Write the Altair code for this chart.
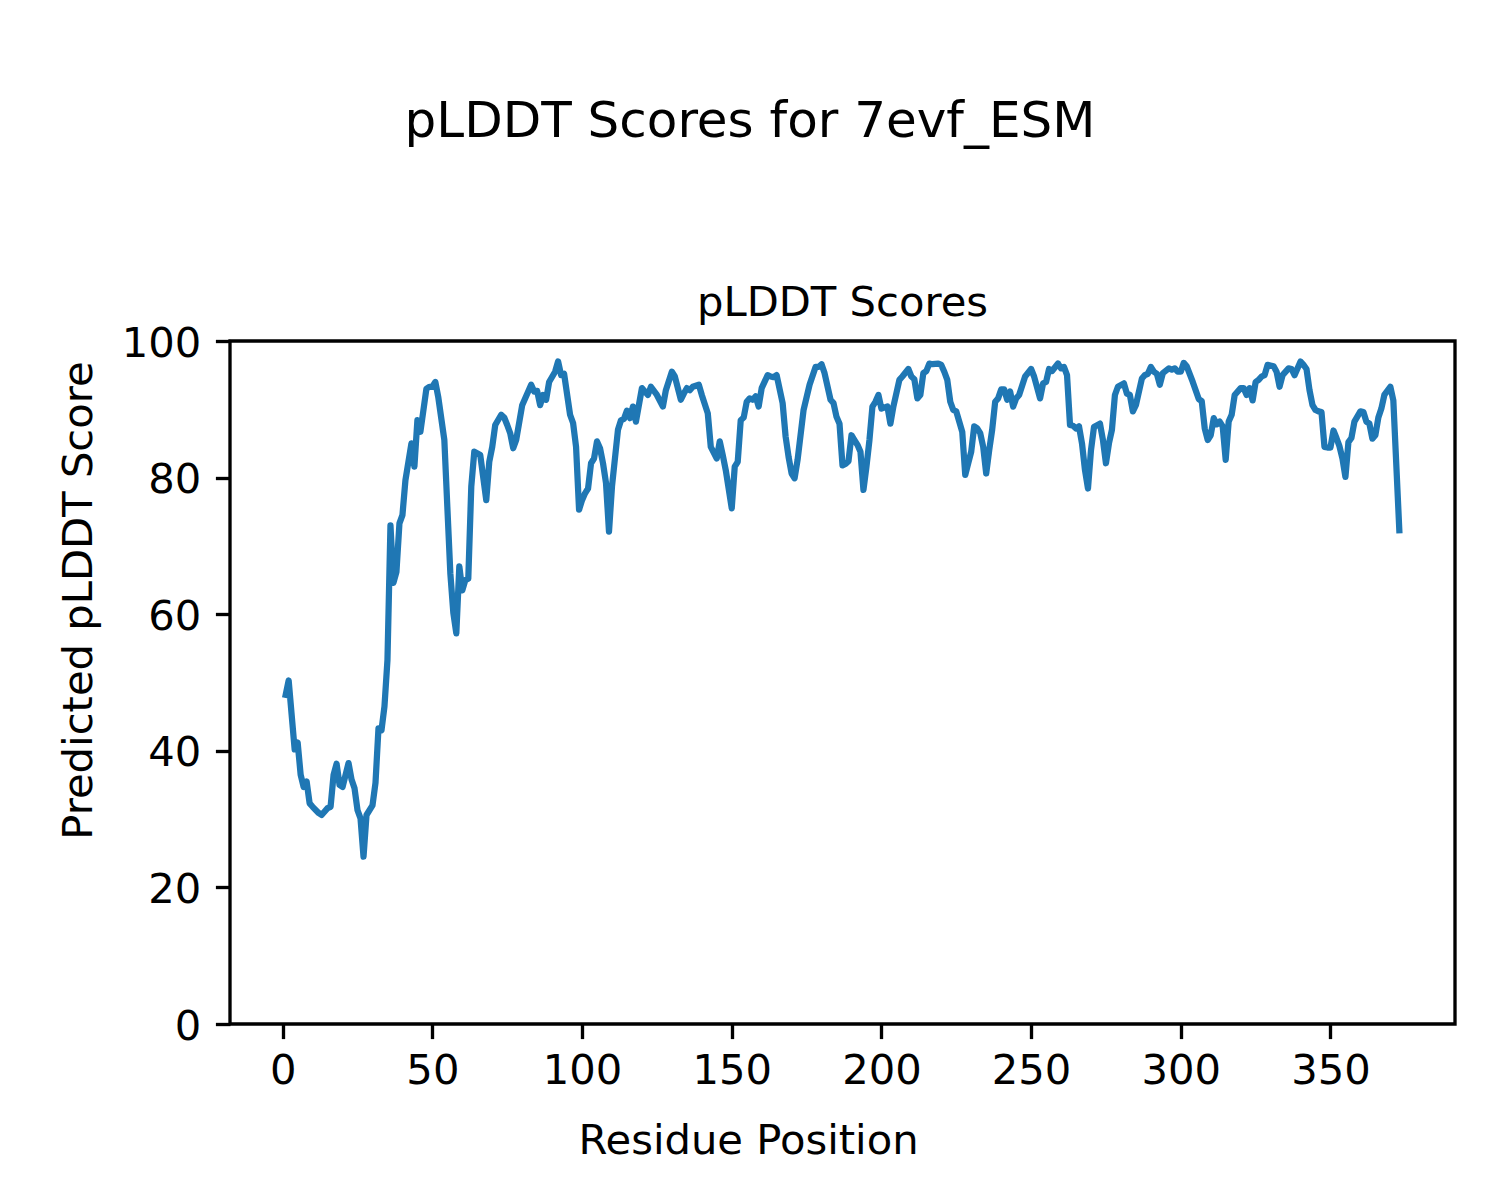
import altair as alt
import pandas as pd

suptitle = "pLDDT Scores for 7evf_ESM"
axes_title = "pLDDT Scores"
x_title = "Residue Position"
y_title = "Predicted pLDDT Score"
x_ticks = [0, 50, 100, 150, 200, 250, 300, 350]
y_ticks = [0, 20, 40, 60, 80, 100]

residue = [
    1, 2, 4, 5, 6, 7, 8, 9, 10, 12, 13, 15, 16, 17, 18, 19, 20, 22, 23, 24,
    25, 26, 27, 28, 30, 31, 32, 33, 34, 35, 36, 37, 38, 39, 40, 41, 43, 44, 45, 46,
    48, 49, 50, 51, 52, 54, 55, 56, 57, 58, 59, 60, 61, 62, 63, 64, 66, 68, 69, 70,
    71, 73, 74, 75, 76, 77, 78, 80, 83, 84, 85, 86, 87, 88, 89, 91, 92, 93, 94, 96,
    97, 98, 99, 100, 101, 102, 103, 104, 105, 106, 107, 108, 109, 110, 112, 113, 114, 115, 116, 117,
    118, 120, 122, 123, 125, 127, 128, 130, 131, 133, 134, 135, 136, 137, 139, 140, 142, 143, 145, 146,
    147, 148, 150, 151, 152, 153, 154, 155, 156, 157, 158, 159, 160, 162, 163, 164, 165, 167, 168, 169,
    170, 171, 172, 174, 176, 178, 179, 180, 181, 183, 184, 185, 186, 187, 188, 189, 190, 191, 192, 193,
    194, 195, 196, 197, 198, 199, 200, 202, 203, 204, 206, 207, 209, 210, 211, 212, 213, 214, 215, 216,
    217, 219, 220, 221, 222, 223, 224, 225, 226, 227, 228, 229, 230, 231, 232, 233, 234, 235, 236, 237,
    238, 239, 240, 241, 242, 243, 244, 245, 246, 248, 250, 251, 253, 254, 255, 256, 257, 259, 260, 261,
    262, 263, 264, 265, 266, 267, 268, 269, 270, 271, 273, 274, 275, 276, 277, 278, 279, 281, 282, 283,
    284, 285, 287, 288, 289, 290, 291, 292, 293, 294, 296, 297, 298, 299, 300, 301, 302, 304, 306, 307,
    308, 309, 310, 311, 312, 313, 314, 315, 316, 317, 318, 320, 321, 322, 323, 324, 325, 326, 327, 328,
    329, 331, 332, 333, 334, 336, 337, 338, 340, 341, 342, 343, 344, 345, 346, 347, 348, 349, 350, 351,
    352, 353, 354, 355, 356, 357, 358, 360, 361, 362, 363, 364, 365, 366, 367, 368, 370, 371, 373,
]

plddt = [
    48.2, 50.3, 40.2, 41.2, 36.5, 34.7, 35.5, 32.3, 31.8, 30.9, 30.6, 31.6, 31.8, 36.5, 38.1, 35.0, 34.7, 38.2, 35.8, 34.5,
    31.3, 30.1, 24.5, 30.6, 32.0, 35.3, 43.3, 43.0, 46.5, 53.3, 73.0, 64.6, 66.2, 73.3, 74.5, 79.6, 85.0, 81.6, 88.4, 86.7,
    93.0, 93.3, 93.3, 94.0, 91.7, 85.5, 75.7, 66.0, 60.2, 57.2, 67.0, 63.5, 65.0, 65.2, 78.7, 83.8, 83.3, 76.7, 82.3, 84.5,
    87.7, 89.2, 88.8, 87.7, 86.5, 84.3, 85.5, 90.6, 93.6, 92.6, 92.7, 90.6, 92.1, 91.4, 94.0, 95.5, 97.0, 95.0, 95.2, 89.2,
    88.0, 84.5, 75.3, 76.7, 77.7, 78.4, 82.1, 82.8, 85.3, 84.3, 82.1, 79.2, 72.1, 78.7, 87.0, 88.4, 88.6, 89.8, 88.7, 90.4,
    88.2, 93.1, 92.1, 93.3, 92.1, 90.4, 92.8, 95.5, 94.8, 91.4, 92.3, 93.1, 92.8, 93.3, 93.6, 92.1, 89.4, 84.5, 82.8, 85.3,
    83.3, 81.1, 75.5, 81.6, 82.3, 88.4, 88.8, 91.1, 91.6, 91.4, 91.9, 90.4, 93.1, 95.0, 94.8, 94.7, 95.0, 90.9, 86.0, 83.0,
    80.6, 79.9, 82.6, 89.9, 93.6, 96.2, 96.2, 96.6, 95.3, 91.4, 90.9, 88.9, 87.9, 81.8, 82.0, 82.4, 86.2, 85.5, 84.8, 83.8,
    78.2, 81.6, 85.5, 90.4, 91.1, 92.1, 90.1, 90.4, 87.9, 90.4, 94.3, 94.8, 95.9, 94.8, 94.4, 91.6, 92.1, 95.3, 95.6, 96.7,
    96.6, 96.7, 96.5, 95.5, 94.3, 91.1, 89.9, 89.7, 88.2, 86.7, 80.4, 82.1, 83.8, 87.5, 87.2, 86.5, 84.5, 80.6, 84.0, 87.0,
    91.1, 91.6, 92.9, 92.9, 91.4, 92.6, 90.4, 91.6, 92.1, 94.8, 95.9, 94.8, 91.6, 93.8, 94.0, 95.9, 95.6, 96.7, 96.0, 96.2,
    95.0, 87.7, 87.6, 87.2, 87.5, 85.0, 81.1, 78.4, 84.0, 87.4, 87.9, 85.5, 82.1, 85.0, 87.0, 92.1, 93.3, 93.8, 92.3, 92.1,
    89.7, 90.6, 94.5, 95.0, 95.2, 96.2, 95.5, 95.2, 93.6, 95.3, 96.0, 95.8, 96.0, 95.5, 95.5, 96.8, 96.3, 94.0, 91.5, 91.2,
    87.2, 85.5, 86.2, 88.7, 87.8, 88.2, 87.5, 82.6, 88.2, 89.2, 92.1, 93.1, 93.1, 92.1, 93.1, 91.3, 94.0, 94.3, 94.8, 95.0,
    96.5, 96.3, 95.5, 93.3, 95.0, 96.0, 95.9, 95.0, 97.0, 96.5, 95.9, 92.8, 90.6, 89.9, 89.7, 89.6, 84.5, 84.4, 84.4, 86.9,
    85.8, 84.6, 82.8, 80.1, 85.2, 85.8, 88.2, 89.7, 89.6, 88.2, 87.9, 85.7, 86.2, 88.8, 90.1, 92.1, 93.3, 91.3, 72.3,
]

df = pd.DataFrame({"residue": residue, "plddt": plddt})

FONT = "DejaVu Sans"
W, H = 1225, 683

line = alt.Chart(df).mark_line(
    color="#1f77b4", strokeWidth=6.25, strokeCap="square", strokeJoin="round"
).encode(
    x=alt.X(
        "residue:Q",
        scale=alt.Scale(domain=[-17.6, 391.6], nice=False, zero=False),
        axis=alt.Axis(
            values=x_ticks, title=x_title, labelBaseline="alphabetic",
            labelPadding=44.4, labelAlign="center",
            titleX=518, titleY=129, titleAlign="center", titleBaseline="alphabetic",
        ),
    ),
    y=alt.Y(
        "plddt:Q",
        scale=alt.Scale(domain=[0, 100], nice=False, zero=False),
        axis=alt.Axis(
            values=y_ticks, title=y_title, labelBaseline="alphabetic",
            labelOffset=15, labelPadding=14.6, labelAlign="right",
            titleAngle=270, titleX=-138.3, titleY=259, titleAlign="center",
            titleBaseline="alphabetic",
        ),
    ),
)

sup = alt.Chart(pd.DataFrame({"t": [suptitle]})).mark_text(
    font=FONT, fontSize=50, align="center", baseline="alphabetic", color="black"
).encode(x=alt.value(520), y=alt.value(-204), text="t:N")

ttl = alt.Chart(pd.DataFrame({"t": [axes_title]})).mark_text(
    font=FONT, fontSize=41.7, align="center", baseline="alphabetic", color="black"
).encode(x=alt.value(W / 2), y=alt.value(-25), text="t:N")

chart = alt.layer(line, sup, ttl).properties(
    width=W, height=H,
    padding={"left": 222, "top": 333, "right": 25, "bottom": 155},
    autosize=alt.AutoSizeParams(type="none"),
    background="white",
).configure_view(
    stroke="black", strokeWidth=3.33
).configure_axis(
    grid=False, domain=False,
    labelFont=FONT, labelFontSize=41.7, labelColor="black", labelFlush=False,
    titleFont=FONT, titleFontSize=41.7, titleColor="black", titleFontWeight="normal",
    tickColor="black", tickWidth=3.33, tickSize=14.6, labelOverlap=False,
)

chart.save("out.html", embed_options={"renderer": "svg", "actions": False})
